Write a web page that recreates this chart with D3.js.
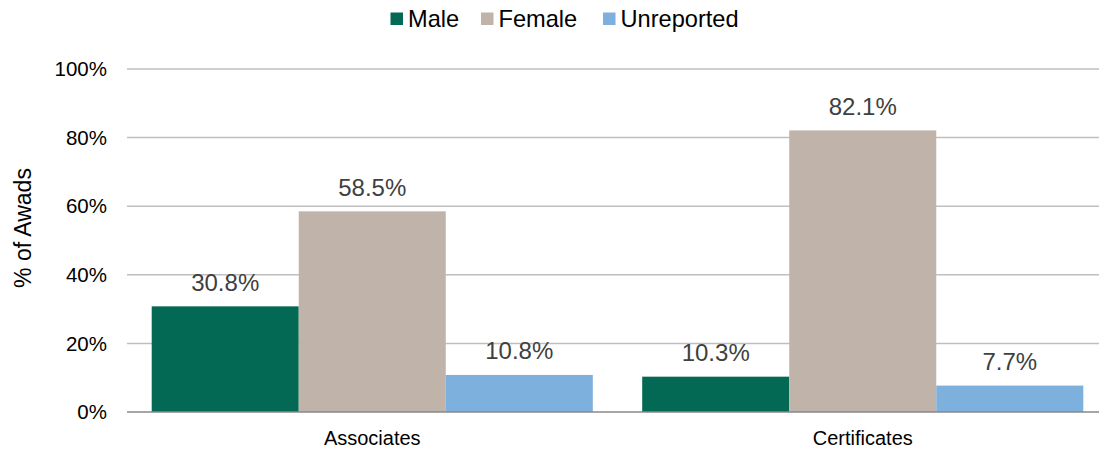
<!DOCTYPE html>
<html lang="en">
<head>
    <meta charset="UTF-8">
    <title>% of Awads</title>
    <script src="https://cdn.jsdelivr.net/npm/d3@7"></script>
    <style>
        body { margin: 0; background: #fff; }
        text { font-family: "Liberation Sans", Arial, sans-serif; }
    </style>
</head>
<body>
</body>
<script>
    // Chart data
    const categories = ["Associates", "Certificates"];
    const seriesNames = ["Male", "Female", "Unreported"];
    const male = [30.8, 10.3];
    const female = [58.5, 82.1];
    const unreported = [10.8, 7.7];
    const yTicks = [0, 20, 40, 60, 80, 100];
    const colors = ["#036854", "#c0b3a9", "#7eb0de"];

    const width = 1099;
    const height = 449;
    const margin = { top: 69, right: -9, bottom: 37, left: 127 };

    const series = [male, female, unreported];

    const svg = d3.select("body")
        .append("svg")
        .attr("width", width)
        .attr("height", height);

    const x = d3.scaleBand()
        .domain(categories)
        .range([margin.left, width - margin.right])
        .paddingInner(0)
        .paddingOuter(0);

    const inner = d3.scaleBand()
        .domain(seriesNames)
        .range([0, x.bandwidth()])
        .paddingInner(0)
        .paddingOuter(0.168);

    const y = d3.scaleLinear()
        .domain([0, 100])
        .range([height - margin.bottom, margin.top]);

    // Gridlines
    svg.append("g")
        .selectAll("line")
        .data(yTicks.filter(d => d > 0))
        .join("line")
        .attr("x1", margin.left)
        .attr("x2", width)
        .attr("y1", d => y(d))
        .attr("y2", d => y(d))
        .attr("stroke", "#bfbfbf")
        .attr("stroke-width", 1.5);

    // Y tick labels
    svg.append("g")
        .selectAll("text")
        .data(yTicks)
        .join("text")
        .attr("x", 107)
        .attr("y", d => y(d))
        .attr("dy", "0.35em")
        .attr("text-anchor", "end")
        .attr("font-size", 20.5)
        .attr("fill", "#000")
        .text(d => d + "%");

    // Bars
    const groups = svg.append("g")
        .selectAll("g")
        .data(categories)
        .join("g")
        .attr("transform", d => `translate(${x(d)},0)`);

    groups.selectAll("rect")
        .data((d, i) => seriesNames.map((s, j) => ({ s, v: series[j][i] })))
        .join("rect")
        .attr("x", d => inner(d.s))
        .attr("y", d => y(d.v))
        .attr("width", inner.bandwidth())
        .attr("height", d => y(0) - y(d.v))
        .attr("fill", (d, j) => colors[j]);

    // Value labels
    groups.selectAll("text")
        .data((d, i) => seriesNames.map((s, j) => ({ s, v: series[j][i] })))
        .join("text")
        .attr("x", d => inner(d.s) + inner.bandwidth() / 2)
        .attr("y", d => y(d.v) - 15.5)
        .attr("text-anchor", "middle")
        .attr("font-size", 24)
        .attr("fill", "#404040")
        .text(d => d.v.toFixed(1) + "%");

    // Baseline
    svg.append("line")
        .attr("x1", margin.left)
        .attr("x2", width)
        .attr("y1", y(0))
        .attr("y2", y(0))
        .attr("stroke", "#898989")
        .attr("stroke-width", 1.5);

    // Category labels
    svg.append("g")
        .selectAll("text")
        .data(categories)
        .join("text")
        .attr("x", d => x(d) + x.bandwidth() / 2)
        .attr("y", 445)
        .attr("text-anchor", "middle")
        .attr("font-size", 20)
        .attr("fill", "#000")
        .text(d => d);

    // Y axis title
    svg.append("text")
        .attr("transform", "translate(31,228) rotate(-90)")
        .attr("text-anchor", "middle")
        .attr("font-size", 23)
        .attr("fill", "#000")
        .text("% of Awads");

    // Legend
    const legendX = [390.5, 481, 603];
    const legend = svg.append("g")
        .selectAll("g")
        .data(seriesNames)
        .join("g")
        .attr("transform", (d, i) => `translate(${legendX[i]},0)`);

    legend.append("rect")
        .attr("x", 0)
        .attr("y", 12.5)
        .attr("width", 12.5)
        .attr("height", 12.5)
        .attr("fill", (d, i) => colors[i]);

    legend.append("text")
        .attr("x", 17.5)
        .attr("y", 27)
        .attr("font-size", 23.6)
        .attr("fill", "#000")
        .text(d => d);
</script>
</html>
